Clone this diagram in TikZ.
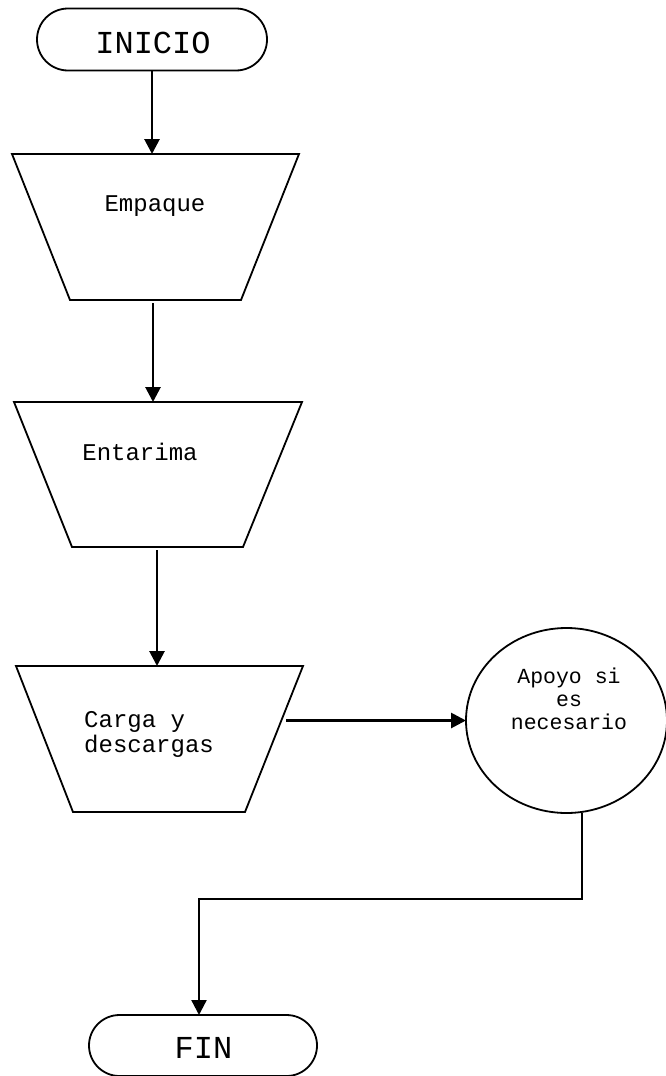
\documentclass[tikz,border=0pt]{standalone}
\usepackage{fontspec}
\setmonofont{Liberation Mono}
\usetikzlibrary{shapes.geometric,shapes.misc,arrows.meta}
\begin{document}
\begin{tikzpicture}[x=1pt,y=-1pt,
  shapeline/.style={draw, line width=1.8pt, outer sep=0pt, inner sep=2pt},
  terminal/.style={shapeline, rounded rectangle, minimum width=234pt, minimum height=62pt},
  processbox/.style={inner sep=0pt, outer sep=0pt, minimum width=287pt, minimum height=146pt},
  bubble/.style={shapeline, ellipse, minimum width=201pt, minimum height=185pt},
  bigtext/.style={font=\ttfamily\fontsize{32}{36}\selectfont, inner sep=0pt},
  boxtext/.style={font=\ttfamily\fontsize{24}{25}\selectfont, inner sep=0pt},
  bubbletext/.style={font=\ttfamily\fontsize{21.5}{23}\selectfont, inner sep=0pt, align=center},
  flow/.style={line width=2.8pt, -{Triangle[length=15pt,width=15pt]}},
]
\fill[white] (0,0) rectangle (666,1076);
\useasboundingbox (0,0) rectangle (666,1076);

% start / end terminals
\node[terminal] (ini) at (152,39.5) {\strut};
\node[bigtext, anchor=base] (iniT) at (153,53) {INICIO};
\node[terminal, minimum width=232pt, minimum height=61pt] (fin) at (203,1045.5) {\strut};
\node[bigtext, anchor=base] (finT) at (203.5,1058) {FIN};

% process steps: inverted trapezoids drawn on their bounding boxes
\node[processbox] (emp) at (155.5,227) {};
\draw[shapeline] (emp.north west) -- (emp.north east) -- ([xshift=-58pt]emp.south east)
  -- ([xshift=58pt]emp.south west) -- cycle;
\node[boxtext, anchor=base] (empT) at (155,211) {Empaque};

\node[processbox, minimum width=288pt, minimum height=145pt] (ent) at (158,474.5) {};
\draw[shapeline] (ent.north west) -- (ent.north east) -- ([xshift=-59pt]ent.south east)
  -- ([xshift=58pt]ent.south west) -- cycle;
\node[boxtext, anchor=base] (entT) at (140,460) {Entarima};

\node[processbox] (car) at (159.5,739) {};
\draw[shapeline] (car.north west) -- (car.north east) -- ([xshift=-58pt]car.south east)
  -- ([xshift=57pt]car.south west) -- cycle;
\node[boxtext, align=left, anchor=north west] (carT) at (84,711) {Carga y\\descargas};

% support bubble
\node[bubble] (apo) at (566.5,720.5) {\strut};
\node[bubbletext, anchor=north] (apoT) at (569,668) {Apoyo si\\es\\necesario};

% connectors
\draw[flow] (ini.south) -- (ini.south |- emp.north);
\draw[flow] ([xshift=-2.5pt,yshift=-3pt]emp.south) -- ([xshift=-2.5pt]emp.south |- ent.north);
\draw[flow] ([xshift=-1pt,yshift=-3pt]ent.south) -- ([xshift=-1pt]ent.south |- car.north);
\draw[flow] ([xshift=-17pt]car.east |- apo.west) -- (apo.west);
\coordinate (j) at (199,899);
\draw[flow, line width=2.3pt] ([xshift=15.5pt]apo.south) |- (j) -- (j |- fin.north);
\end{tikzpicture}
\end{document}
